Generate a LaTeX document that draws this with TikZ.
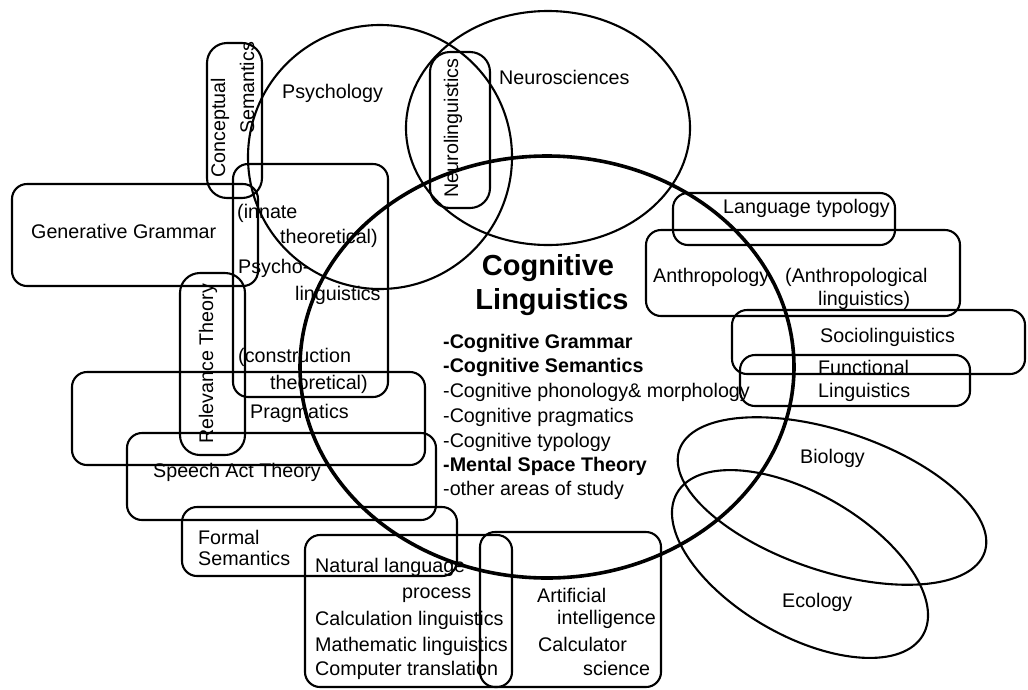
\documentclass[tikz,border=0pt]{standalone}
\usepackage{fontspec}
\setmainfont{Liberation Sans}
\begin{document}
\begin{tikzpicture}[x=1pt,y=-1pt,
  line join=round,
  shapeline/.style={draw=black,line width=2.1pt},
  boxshape/.style={shapeline,rounded corners=15pt},
  capsule/.style={shapeline,rounded corners=20pt},
  coreline/.style={draw=black,line width=3.6pt},
  lbl/.style={inner sep=0pt,anchor=west,font=\fontsize{19.7}{22}\selectfont},
  vlbl/.style={inner sep=0pt,rotate=90,font=\fontsize{19.7}{22}\selectfont},
  title/.style={inner sep=0pt,font=\fontsize{29}{33}\selectfont\bfseries},
  item/.style={lbl},
  bitem/.style={lbl,font=\fontsize{19.7}{22}\selectfont\bfseries}]
\useasboundingbox (0,0) rectangle (1028,689);

% --- neighbouring fields (outlines) ---
\draw[capsule] (207,43) rectangle (262,198);          % conceptual semantics
\draw[shapeline] (380,157) circle [radius=132];       % psychology
\draw[shapeline] (548,128) ellipse [x radius=142,y radius=117]; % neurosciences
\draw[capsule] (430,52) rectangle (490,208);          % neurolinguistics
\draw[boxshape] (12,184) rectangle (258,286);         % generative grammar
\draw[boxshape] (233,164) rectangle (388,397);        % psycholinguistics
\draw[capsule] (180,273) rectangle (245,455);         % relevance theory
\draw[boxshape] (72,372) rectangle (425,465);         % pragmatics
\draw[boxshape] (127,433) rectangle (436,520);        % speech act theory
\draw[boxshape] (182,507) rectangle (457,576);        % formal semantics
\draw[boxshape] (305,535) rectangle (512,687);        % natural language processing
\draw[boxshape] (480,532) rectangle (661,687);        % artificial intelligence
\draw[boxshape] (673,193) rectangle (895,245);        % language typology
\draw[boxshape] (646,230) rectangle (960,316);        % anthropology
\draw[boxshape] (732,310) rectangle (1025,374);       % sociolinguistics
\draw[boxshape] (740,355) rectangle (970,406);        % functional linguistics
\begin{scope}[shift={(832,501)},rotate=-18.5]
  \draw[shapeline] (0,0) ellipse [x radius=161,y radius=70]; % biology
\end{scope}
\begin{scope}[shift={(800,564)},rotate=-30]
  \draw[shapeline] (0,0) ellipse [x radius=142,y radius=71]; % ecology
\end{scope}

% --- the core field ---
\draw[coreline] (547,367) ellipse [x radius=247,y radius=211];

% --- labels ---
\node[vlbl] (concA) at (220,128) {Conceptual};
\node[vlbl] (concB) at (247,88) {Semantics};
\node[lbl] (psy) at (282,93) {Psychology};
\node[lbl] (neuro) at (499,77) {Neurosciences};
\node[vlbl] (neuroling) at (453,128) {Neurolinguistics};
\node[lbl] (gen) at (31,231) {Generative Grammar};
\node[lbl] (inn) at (237,213) {(innate};
\node[lbl] (innB) at (280,238) {theoretical)};
\node[lbl] (psyA) at (238,268) {Psycho-};
\node[lbl] (psyB) at (295,295) {linguistics};
\node[lbl] (cons) at (238,357) {(construction};
\node[lbl] (consB) at (270,384) {theoretical)};
\node[vlbl] (rel) at (208,364) {Relevance Theory};
\node[lbl] (prag) at (250,413) {Pragmatics};
\node[lbl] (speech) at (153,472) {Speech Act Theory};
\node[lbl] (formA) at (198,537) {Formal};
\node[lbl] (formB) at (198,558) {Semantics};
\node[lbl] (nlpA) at (315,567) {Natural language};
\node[lbl] (nlpB) at (402,595) {process};
\node[lbl] (nlpC) at (315,620) {Calculation linguistics};
\node[lbl] (nlpD) at (315,646) {Mathematic linguistics};
\node[lbl] (nlpE) at (315,670) {Computer translation};
\node[lbl] (aiA) at (537,595) {Artificial};
\node[lbl] (aiB) at (557,619) {intelligence};
\node[lbl] (aiC) at (538,644) {Calculator};
\node[lbl] (aiD) at (583,668) {science};

\node[title] (cogA) at (548,268) {Cognitive};
\node[title] (cogB) at (552,302) {Linguistics};
\node[bitem] (i1) at (443,343) {-Cognitive Grammar};
\node[bitem] (i2) at (443,367) {-Cognitive Semantics};
\node[item]  (i3) at (443,392) {-Cognitive phonology\& morphology};
\node[item]  (i4) at (443,417) {-Cognitive pragmatics};
\node[item]  (i5) at (443,442) {-Cognitive typology};
\node[bitem] (i6) at (443,466) {-Mental Space Theory};
\node[item]  (i7) at (443,490) {-other areas of study};

\node[lbl] (ltyp) at (723,208) {Language typology};
\node[lbl] (anthA) at (653,277) {Anthropology};
\node[lbl] (anthB) at (785,277) {(Anthropological};
\node[lbl] (anthC) at (818,300) {linguistics)};
\node[lbl] (socio) at (820,337) {Sociolinguistics};
\node[lbl] (funcA) at (818,367) {Functional};
\node[lbl] (funcB) at (818,392) {Linguistics};
\node[lbl] (bio) at (800,458) {Biology};
\node[lbl] (eco) at (782,602) {Ecology};
\end{tikzpicture}
\end{document}
